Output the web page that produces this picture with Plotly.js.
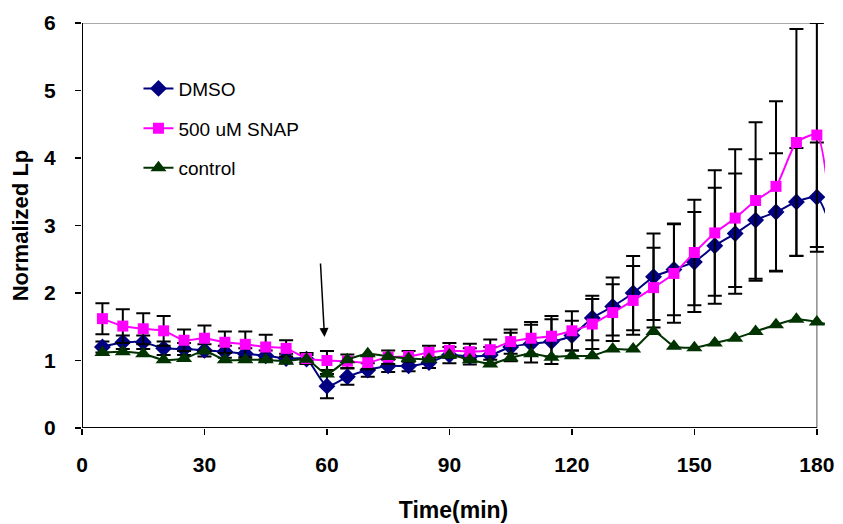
<!DOCTYPE html>
<html>
<head>
<meta charset="utf-8">
<script src="https://cdn.plot.ly/plotly-3.0.1.min.js"></script>
<style>html,body{margin:0;padding:0;background:#fff;}#chart{width:843px;height:524px;}</style>
</head>
<body>
<div id="chart"></div>
<script>
// Time points (min); the last point lies beyond the visible axis end, as in the original
const timeMin = [5,10,15,20,25,30,35,40,45,50,55,60,65,70,75,80,85,90,95,100,105,110,115,120,125,130,135,140,145,150,155,160,165,170,175,180,185];

const dmso = [1.20,1.27,1.27,1.18,1.17,1.15,1.13,1.10,1.07,1.03,1.02,0.62,0.76,0.86,0.92,0.92,0.97,1.08,1.06,1.08,1.20,1.25,1.28,1.37,1.63,1.80,2.00,2.24,2.35,2.46,2.70,2.88,3.08,3.20,3.35,3.42,2.70];
const dmsoErr = [0.08,0.10,0.10,0.10,0.09,0.09,0.09,0.08,0.08,0.07,0.06,0.18,0.12,0.10,0.09,0.08,0.08,0.12,0.12,0.12,0.21,0.28,0.33,0.22,0.33,0.43,0.55,0.64,0.68,0.74,0.86,0.89,0.90,0.87,0.80,0.81,0];

const snap = [1.62,1.51,1.47,1.44,1.30,1.33,1.27,1.24,1.20,1.18,1.03,1.00,0.99,0.97,1.05,1.06,1.12,1.15,1.13,1.16,1.28,1.33,1.36,1.44,1.54,1.71,1.89,2.08,2.29,2.60,2.89,3.11,3.37,3.58,4.23,4.34,1.80];
const snapErr = [0.23,0.25,0.23,0.22,0.16,0.19,0.16,0.19,0.18,0.12,0.08,0.14,0.10,0.10,0.10,0.08,0.10,0.11,0.12,0.15,0.18,0.24,0.30,0.29,0.37,0.42,0.51,0.59,0.73,0.78,0.93,1.02,1.16,1.26,1.68,1.66,0];

const control = [1.12,1.13,1.10,1.01,1.03,1.14,1.01,1.01,1.01,0.99,1.02,0.80,1.01,1.10,1.06,1.03,1.02,1.08,1.01,0.95,1.04,1.10,1.05,1.07,1.07,1.17,1.17,1.43,1.21,1.19,1.26,1.33,1.43,1.53,1.61,1.57,1.50];

const seriesNames = ['DMSO','500 uM SNAP','control'];
const xTicks = [0,30,60,90,120,150,180];
const yTicks = [0,1,2,3,4,5,6];

const FONT = 'Liberation Sans, Arial, sans-serif';

function errBars(arr){
  return {type:'data', array:arr, visible:true, color:'#000000', thickness:2, width:7};
}

const traces = [
  {x:timeMin, y:dmso, name:seriesNames[0], type:'scatter', mode:'lines+markers',
   line:{color:'#000080', width:2, shape:'spline', smoothing:0.6},
   marker:{symbol:'diamond', size:13, color:'#000080'},
   error_y:errBars(dmsoErr), legendgroup:'a'},
  {x:timeMin, y:snap, name:seriesNames[1], type:'scatter', mode:'lines+markers',
   line:{color:'#FF00FF', width:2, shape:'spline', smoothing:0.6},
   marker:{symbol:'square', size:11, color:'#FF00FF'},
   error_y:errBars(snapErr), legendgroup:'b'},
  {x:timeMin, y:control, name:seriesNames[2], type:'scatter', mode:'lines+markers',
   line:{color:'#003300', width:2, shape:'spline', smoothing:0.6},
   marker:{symbol:'triangle-up', size:14, color:'#003300'},
   legendgroup:'c'}
];

const layout = {
  width:843, height:524,
  margin:{l:82, r:18, t:23, b:96},
  paper_bgcolor:'#ffffff', plot_bgcolor:'#ffffff',
  font:{family:FONT, color:'#000000'},
  showlegend:true,
  legend:{x:0.076, y:0.885, xanchor:'left', yanchor:'top', bgcolor:'rgba(0,0,0,0)',
          font:{family:FONT, size:19, color:'#000000'}, traceorder:'grouped', tracegroupgap:12},
  xaxis:{range:[0,182], tickvals:xTicks, ticktext:xTicks.map(String), showline:false, zeroline:false, showgrid:false,
         ticks:'outside', ticklen:6, tickwidth:1.5, tickcolor:'#000000', ticklabelstandoff:12,
         tickfont:{family:FONT, size:21, weight:'bold', color:'#000000'},
         title:{text:'Time(min)', font:{family:FONT, size:23, weight:'bold', color:'#000000'}, standoff:26}},
  yaxis:{range:[0,6], tickvals:yTicks, ticktext:yTicks.map(String), showline:false, zeroline:false, showgrid:false,
         ticks:'outside', ticklen:6, tickwidth:1.5, tickcolor:'#000000', ticklabelstandoff:15,
         tickfont:{family:FONT, size:21, weight:'bold', color:'#000000'},
         title:{text:'Normalized Lp', font:{family:FONT, size:22, weight:'bold', color:'#000000'}, standoff:9}},
  shapes:[
    {type:'line', xref:'x', yref:'y', x0:0, x1:180, y0:6, y1:6, line:{color:'#8c8c8c', width:1.5}, layer:'below'},
    {type:'line', xref:'x', yref:'y', x0:180, x1:180, y0:0, y1:6, line:{color:'#8c8c8c', width:1.5}, layer:'below'},
    {type:'line', xref:'x', yref:'y', x0:0, x1:0, y0:0, y1:6, line:{color:'#000000', width:2}, layer:'below'},
    {type:'line', xref:'x', yref:'y', x0:0, x1:180, y0:0, y1:0, line:{color:'#000000', width:2}, layer:'below'}
  ],
  annotations:[
    {x:59.4, y:1.35, ax:58.4, ay:2.46, xref:'x', yref:'y', axref:'x', ayref:'y', text:'', showarrow:true,
     arrowhead:2, arrowsize:1.2, arrowwidth:1.5, arrowcolor:'#000000', standoff:0}
  ]
};

Plotly.newPlot('chart', traces, layout, {displayModeBar:false, staticPlot:true});
</script>
</body>
</html>
